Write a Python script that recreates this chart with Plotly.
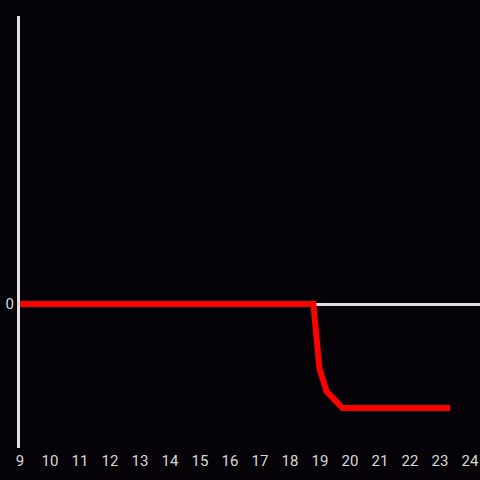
import plotly.graph_objects as go

# values
hours = [9, 10, 11, 12, 13, 14, 15, 16, 17, 18, 18.78, 18.98, 19.22, 19.75, 20, 21, 22, 23, 23.34]
values = [0, 0, 0, 0, 0, 0, 0, 0, 0, 0, 0, -0.62, -0.84, -1, -1, -1, -1, -1, -1]
x_ticks = list(range(9, 25))

BG = "#050307"
AXIS = "#e0e0e0"

fig = go.Figure(go.Scatter(
    x=hours,
    y=values,
    mode="lines",
    line=dict(color="#ff0000", width=6),
    showlegend=False,
    hoverinfo="skip",
))

fig.update_layout(
    width=480,
    height=480,
    margin=dict(l=20, r=0, t=16, b=32),
    paper_bgcolor=BG,
    plot_bgcolor=BG,
    font=dict(family="Roboto", size=15, color="#d8d8d8"),
    xaxis=dict(
        range=[9, 24.333],
        tickvals=x_ticks,
        showgrid=False,
        zeroline=False,
        showline=False,
        ticks="",
        ticklabelstandoff=2,
        automargin=False,
    ),
    yaxis=dict(
        range=[-1.385, 2.77],
        tickvals=[0],
        showgrid=False,
        zeroline=True,
        zerolinecolor=AXIS,
        zerolinewidth=3,
        showline=True,
        linecolor=AXIS,
        linewidth=3,
        ticks="",
        automargin=False,
    ),
)

# drop the page's default body margin so the figure fills the window
fig.write_html(
    "out.html",
    config={"displayModeBar": False},
    post_script="document.body.style.margin='0';",
)
